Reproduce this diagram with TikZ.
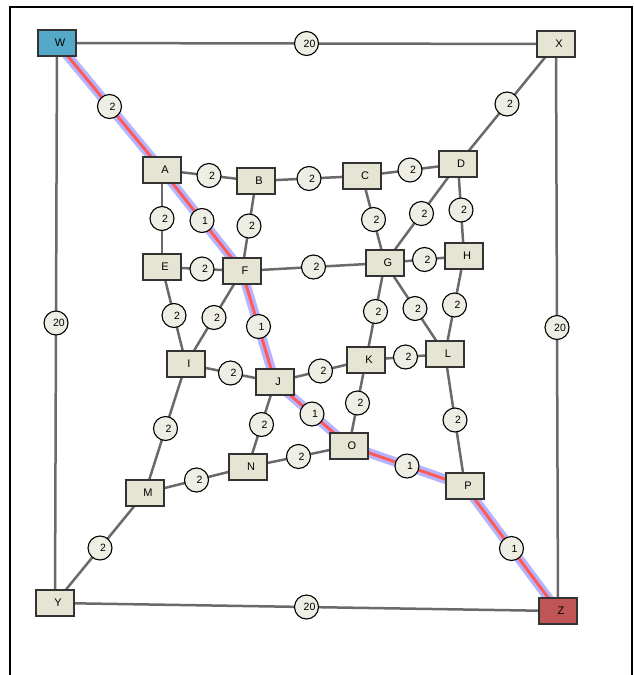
\documentclass[tikz,border=0pt]{standalone}
\usepackage{fontspec}
\setmainfont{Liberation Sans}
\usetikzlibrary{backgrounds}
\definecolor{boxfill}{HTML}{E6E5D3}
\definecolor{boxline}{HTML}{333333}
\definecolor{wtfill}{HTML}{EEEEE4}
\definecolor{edgecol}{HTML}{6A6A6A}
\definecolor{hlblue}{HTML}{B4B4FF}
\definecolor{hlred}{HTML}{FF5A5A}
\definecolor{wfill}{HTML}{55A8C8}
\definecolor{zfill}{HTML}{C05555}
\tikzset{
  vbox/.style={draw=boxline, line width=1.3pt, fill=boxfill, minimum width=38pt, minimum height=26pt, inner sep=0pt, font=\fontsize{11}{13}\selectfont},
  wt/.style={draw=black, line width=1.1pt, fill=wtfill, circle, minimum size=24pt, inner sep=0pt, font=\fontsize{10.5}{12}\selectfont},
  edge/.style={draw=edgecol, line width=2.5pt},
  hlb/.style={draw=hlblue, line width=9.5pt},
  hlr/.style={draw=hlred, line width=3pt},
}
\newcommand{\vt}[1]{\hspace*{6pt}#1}
\begin{document}
\begin{tikzpicture}[x=1pt,y=-1pt]
\useasboundingbox (0,0) rectangle (634,675);
\draw[line width=2pt] (10,676) -- (10,7) -- (632,7) -- (632,676);
% vertices
\node[vbox, fill=wfill] (W) at (57,43) {\vt{W}};
\node[vbox] (X) at (556,44) {\vt{X}};
\node[vbox] (A) at (162,170) {\vt{A}};
\node[vbox] (B) at (256,181) {\vt{B}};
\node[vbox] (C) at (362,176) {\vt{C}};
\node[vbox] (D) at (458,164) {\vt{D}};
\node[vbox] (E) at (162,267) {\vt{E}};
\node[vbox] (F) at (242,271) {\vt{F}};
\node[vbox] (G) at (385,263) {\vt{G}};
\node[vbox] (H) at (464,256) {\vt{H}};
\node[vbox] (I) at (186,364) {\vt{I}};
\node[vbox] (J) at (275,382) {\vt{J}};
\node[vbox] (K) at (366,360) {\vt{K}};
\node[vbox] (L) at (445,354) {\vt{L}};
\node[vbox] (M) at (145,493) {\vt{M}};
\node[vbox] (N) at (248,467) {\vt{N}};
\node[vbox] (O) at (349,446) {\vt{O}};
\node[vbox] (P) at (465,486) {\vt{P}};
\node[vbox] (Y) at (55,603) {\vt{Y}};
\node[vbox, fill=zfill] (Z) at (558,611) {\vt{Z}};
\begin{pgfonlayer}{background}
\draw[edge] (W) -- (X);
\draw[edge] (W) -- (Y);
\draw[edge] (X) -- (Z);
\draw[edge] (Y) -- (Z);
\draw[edge] (X) -- (D);
\draw[edge] (Y) -- (M);
\draw[edge] (A) -- (B);
\draw[edge] (B) -- (C);
\draw[edge] (C) -- (D);
\draw[edge] (A) -- (E);
\draw[edge] (B) -- (F);
\draw[edge] (C) -- (G);
\draw[edge] (D) -- (G);
\draw[edge] (D) -- (H);
\draw[edge] (E) -- (F);
\draw[edge] (F) -- (G);
\draw[edge] (G) -- (H);
\draw[edge] (E) -- (I);
\draw[edge] (F) -- (I);
\draw[edge] (G) -- (K);
\draw[edge] (G) -- (L);
\draw[edge] (H) -- (L);
\draw[edge] (I) -- (J);
\draw[edge] (J) -- (K);
\draw[edge] (K) -- (L);
\draw[edge] (I) -- (M);
\draw[edge] (J) -- (N);
\draw[edge] (K) -- (O);
\draw[edge] (L) -- (P);
\draw[edge] (M) -- (N);
\draw[edge] (N) -- (O);
\draw[hlb, line join=round] (W.center) -- (A.center) -- (F.center) -- (J.center) -- (O.center) -- (P.center) -- (Z.center);
\draw[hlr, line join=round] (W.center) -- (A.center) -- (F.center) -- (J.center) -- (O.center) -- (P.center) -- (Z.center);
\end{pgfonlayer}
% weights
\path (W) -- node[wt]{\vt{20}} (X);
\path (W) -- node[wt]{\vt{20}} (Y);
\path (X) -- node[wt]{\vt{20}} (Z);
\path (Y) -- node[wt]{\vt{20}} (Z);
\path (W) -- node[wt]{\vt{2}} (A);
\path (X) -- node[wt]{\vt{2}} (D);
\path (Y) -- node[wt]{\vt{2}} (M);
\path (P) -- node[wt]{\vt{1}} (Z);
\path (A) -- node[wt]{\vt{2}} (B);
\path (B) -- node[wt]{\vt{2}} (C);
\path (C) -- node[wt]{\vt{2}} (D);
\path (A) -- node[wt]{\vt{2}} (E);
\path (A) -- node[wt]{\vt{1}} (F);
\path (B) -- node[wt]{\vt{2}} (F);
\path (C) -- node[wt]{\vt{2}} (G);
\path (D) -- node[wt]{\vt{2}} (G);
\path (D) -- node[wt]{\vt{2}} (H);
\path (E) -- node[wt]{\vt{2}} (F);
\path (F) -- node[wt]{\vt{2}} (G);
\path (G) -- node[wt]{\vt{2}} (H);
\path (E) -- node[wt]{\vt{2}} (I);
\path (F) -- node[wt]{\vt{2}} (I);
\path (F) -- node[wt]{\vt{1}} (J);
\path (G) -- node[wt]{\vt{2}} (K);
\path (G) -- node[wt]{\vt{2}} (L);
\path (H) -- node[wt]{\vt{2}} (L);
\path (I) -- node[wt]{\vt{2}} (J);
\path (J) -- node[wt]{\vt{2}} (K);
\path (K) -- node[wt]{\vt{2}} (L);
\path (I) -- node[wt]{\vt{2}} (M);
\path (J) -- node[wt]{\vt{2}} (N);
\path (J) -- node[wt]{\vt{1}} (O);
\path (K) -- node[wt]{\vt{2}} (O);
\path (L) -- node[wt]{\vt{2}} (P);
\path (M) -- node[wt]{\vt{2}} (N);
\path (N) -- node[wt]{\vt{2}} (O);
\path (O) -- node[wt]{\vt{1}} (P);
\end{tikzpicture}
\end{document}
